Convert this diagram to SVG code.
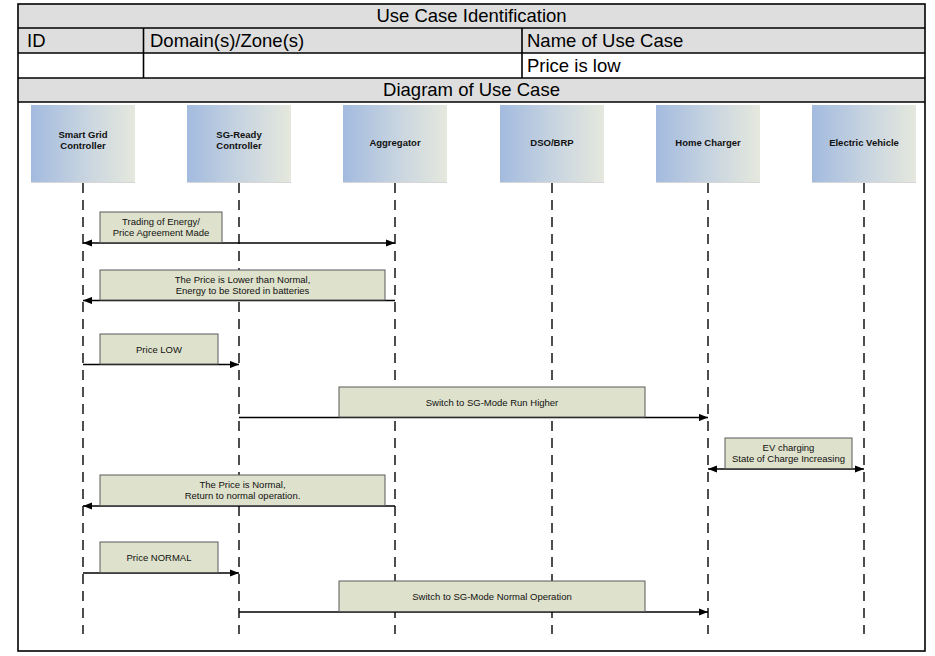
<svg xmlns="http://www.w3.org/2000/svg" width="935" height="656" viewBox="0 0 935 656">
  <style>
    .cell { fill: #ffffff; }
    .band { fill: #dedede; }
    .grid { stroke: #000; stroke-width: 1.6; fill: none; }
    .th { font-family: "Liberation Sans", Arial, sans-serif; font-size: 18.5px; fill: #000; }
    .actor { stroke: none; fill: url(#actorFill); }
    .actor-edge { stroke: #d6d6d6; stroke-width: 1; }
    .actor-label { font-family: "Liberation Sans", Arial, sans-serif; font-size: 9.5px; font-weight: bold; fill: #111; text-anchor: middle; }
    .life { stroke: #222; stroke-width: 1.6; stroke-dasharray: 10 7; fill: none; }
    .msg { stroke: #000; stroke-width: 1.5; fill: none; marker-end: url(#head); }
    .msg2 { stroke: #000; stroke-width: 1.5; fill: none; marker-start: url(#head); marker-end: url(#head); }
    .note { fill: #dee1cb; stroke: #5a5a5a; stroke-width: 1; }
    .note-text { font-family: "Liberation Sans", Arial, sans-serif; font-size: 9.5px; fill: #111; text-anchor: middle; }
  </style>
  <defs>
    <linearGradient id="actorFill" x1="0" y1="0" x2="1" y2="0">
      <stop offset="0" stop-color="#a3bbdf"/>
      <stop offset="0.5" stop-color="#c6d3e0"/>
      <stop offset="1" stop-color="#e5e8dd"/>
    </linearGradient>
    <marker id="head" viewBox="0 0 10 8" refX="10" refY="4" markerWidth="9" markerHeight="7.2" markerUnits="userSpaceOnUse" orient="auto-start-reverse">
      <path d="M0,0 L10,4 L0,8 Z" fill="#000"/>
    </marker>
  </defs>

  <!-- Use case identification table -->
  <g id="table">
    <rect x="18" y="4" width="907" height="647" class="cell"/>
    <rect x="18" y="4" width="907" height="49" class="band"/>
    <rect x="18" y="78" width="907" height="24" class="band"/>
    <rect x="18" y="4" width="907" height="647" class="grid"/>
    <line x1="18" y1="28" x2="925" y2="28" class="grid"/>
    <line x1="18" y1="53" x2="925" y2="53" class="grid"/>
    <line x1="18" y1="78" x2="925" y2="78" class="grid"/>
    <line x1="18" y1="102" x2="925" y2="102" class="grid"/>
    <line x1="143.5" y1="28" x2="143.5" y2="78" class="grid"/>
    <line x1="522" y1="28" x2="522" y2="78" class="grid"/>
    <text x="471.5" y="22" class="th" text-anchor="middle">Use Case Identification</text>
    <text x="27" y="47" class="th">ID</text>
    <text x="150" y="47" class="th">Domain(s)/Zone(s)</text>
    <text x="527" y="47" class="th">Name of Use Case</text>
    <text x="527" y="72" class="th">Price is low</text>
    <text x="471.5" y="96" class="th" text-anchor="middle">Diagram of Use Case</text>
  </g>

  <!-- Lifelines -->
  <g id="lifelines">
    <line x1="83" y1="183" x2="83" y2="634" class="life"/>
    <line x1="239" y1="183" x2="239" y2="634" class="life"/>
    <line x1="395" y1="183" x2="395" y2="634" class="life"/>
    <line x1="552" y1="183" x2="552" y2="634" class="life"/>
    <line x1="708" y1="183" x2="708" y2="634" class="life"/>
    <line x1="864" y1="183" x2="864" y2="634" class="life"/>
  </g>

  <!-- Participants -->
  <g id="smart-grid-controller">
    <rect x="31" y="105" width="104" height="77" class="actor"/>
    <line x1="31" y1="182.5" x2="135" y2="182.5" class="actor-edge"/>
    <text x="83" y="138" class="actor-label">Smart Grid</text>
    <text x="83" y="149" class="actor-label">Controller</text>
  </g>
  <g id="sg-ready-controller">
    <rect x="187" y="105" width="104" height="77" class="actor"/>
    <line x1="187" y1="182.5" x2="291" y2="182.5" class="actor-edge"/>
    <text x="239" y="138" class="actor-label">SG-Ready</text>
    <text x="239" y="149" class="actor-label">Controller</text>
  </g>
  <g id="aggregator">
    <rect x="343" y="105" width="104" height="77" class="actor"/>
    <line x1="343" y1="182.5" x2="447" y2="182.5" class="actor-edge"/>
    <text x="395" y="146" class="actor-label">Aggregator</text>
  </g>
  <g id="dso-brp">
    <rect x="500" y="105" width="104" height="77" class="actor"/>
    <line x1="500" y1="182.5" x2="604" y2="182.5" class="actor-edge"/>
    <text x="552" y="146" class="actor-label">DSO/BRP</text>
  </g>
  <g id="home-charger">
    <rect x="656" y="105" width="104" height="77" class="actor"/>
    <line x1="656" y1="182.5" x2="760" y2="182.5" class="actor-edge"/>
    <text x="708" y="146" class="actor-label">Home Charger</text>
  </g>
  <g id="electric-vehicle">
    <rect x="812" y="105" width="104" height="77" class="actor"/>
    <line x1="812" y1="182.5" x2="916" y2="182.5" class="actor-edge"/>
    <text x="864" y="146" class="actor-label">Electric Vehicle</text>
  </g>

  <!-- Messages -->
  <g id="connectors">
    <line x1="83" y1="243" x2="395" y2="243" class="msg2"/>
    <line x1="395" y1="300.5" x2="83" y2="300.5" class="msg"/>
    <line x1="83" y1="364.5" x2="239" y2="364.5" class="msg"/>
    <line x1="239" y1="417.5" x2="708" y2="417.5" class="msg"/>
    <line x1="708" y1="469" x2="864" y2="469" class="msg2"/>
    <line x1="395" y1="506" x2="83" y2="506" class="msg"/>
    <line x1="83" y1="573" x2="239" y2="573" class="msg"/>
    <line x1="239" y1="612" x2="708" y2="612" class="msg"/>
  </g>

  <!-- Message labels -->
  <g id="msg-trading">
    <rect x="100" y="212" width="122" height="30.5" class="note"/>
    <text x="161" y="225" class="note-text">Trading of Energy/</text>
    <text x="161" y="236" class="note-text">Price Agreement Made</text>
  </g>
  <g id="msg-price-lower">
    <rect x="100" y="270" width="285" height="30" class="note"/>
    <text x="242.5" y="283" class="note-text">The Price is Lower than Normal,</text>
    <text x="242.5" y="294" class="note-text">Energy to be Stored in batteries</text>
  </g>
  <g id="msg-price-low">
    <rect x="100" y="334" width="118" height="30" class="note"/>
    <text x="159" y="352.5" class="note-text">Price LOW</text>
  </g>
  <g id="msg-run-higher">
    <rect x="339" y="387" width="306" height="30" class="note"/>
    <text x="492" y="405.5" class="note-text">Switch to SG-Mode Run Higher</text>
  </g>
  <g id="msg-ev-charging">
    <rect x="725" y="438" width="127" height="30.5" class="note"/>
    <text x="788.5" y="451" class="note-text">EV charging</text>
    <text x="788.5" y="462" class="note-text">State of Charge Increasing</text>
  </g>
  <g id="msg-price-normal">
    <rect x="100" y="475" width="285" height="30.5" class="note"/>
    <text x="242.5" y="488" class="note-text">The Price is Normal,</text>
    <text x="242.5" y="499" class="note-text">Return to normal operation.</text>
  </g>
  <g id="msg-price-normal-short">
    <rect x="100" y="542" width="118" height="30.5" class="note"/>
    <text x="159" y="560.5" class="note-text">Price NORMAL</text>
  </g>
  <g id="msg-normal-operation">
    <rect x="339" y="581" width="306" height="30.5" class="note"/>
    <text x="492" y="599.5" class="note-text">Switch to SG-Mode Normal Operation</text>
  </g>
</svg>
